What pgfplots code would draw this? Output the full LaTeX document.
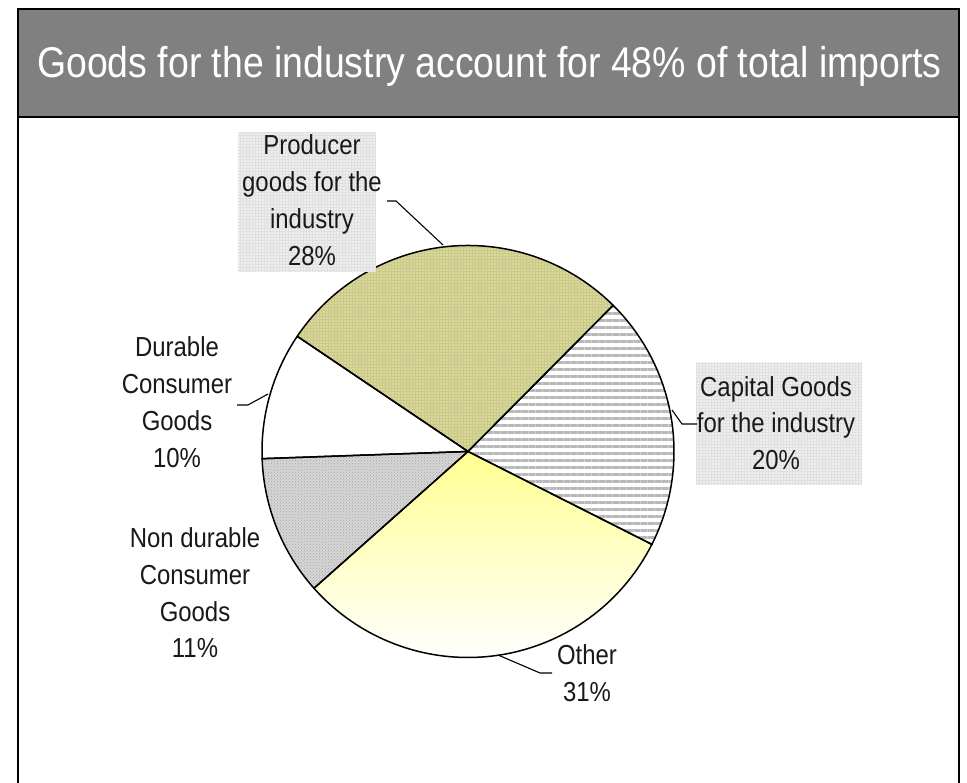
\documentclass[border=0pt]{standalone}
\usepackage{pgfplots}
\pgfplotsset{compat=1.18}
\usepackage{pgfplotstable}
\usepackage{fontspec}
\setmainfont{Liberation Sans}[FakeStretch=0.87]
\usetikzlibrary{patterns,patterns.meta}

\definecolor{titlegray}{RGB}{128,128,128}
\definecolor{khaki}{RGB}{200,200,152}
\definecolor{dotyellow}{RGB}{238,238,120}
\definecolor{stripegray}{RGB}{185,185,185}
\definecolor{lightyellow}{RGB}{255,255,145}
\definecolor{boxgray}{RGB}{238,238,238}
\definecolor{checkgray}{RGB}{165,165,165}

% slice shares (percent), clockwise from the first one
\pgfplotstableread[col sep=comma]{
name,value,style
Producer,28,sliceA
Capital,20,sliceB
Other,31,sliceC
Nondurable,11,sliceD
Durable,10,sliceE
}\piedata

\tikzset{
  sliceA/.style={fill=khaki, postaction={pattern={Dots[distance=3pt,radius=0.8pt]}, pattern color=dotyellow}},
  sliceB/.style={fill=white, postaction={pattern={Lines[angle=0,distance=7pt,line width=3pt]}, pattern color=stripegray}},
  sliceC/.style={top color=lightyellow, bottom color=white},
  sliceD/.style={fill=white!84!black, postaction={pattern=crosshatch dots, pattern color=checkgray}},
  sliceE/.style={fill=white},
  lbl/.style={anchor=base, text=black!90, font=\fontsize{27.5}{36}\selectfont},
  lead/.style={line width=1.1pt, black},
}

\begin{document}
\begin{tikzpicture}[x=1pt,y=1pt]
\useasboundingbox (0,0) rectangle (967,783);

% frame and title bar
\fill[white] (18,0) rectangle (959,666);
\draw[line width=2pt] (18,-2) -- (18,666) (959,666) -- (959,-2);
\filldraw[fill=titlegray, draw=black, line width=2pt] (18,666) rectangle (959,774);
\node[anchor=base, text=white, font=\fontsize{43}{50}\selectfont] at (489.5,705)
  {Goods for the industry account for 48\% of total imports};

\begin{axis}[
    hide axis,
    x=206pt, y=206pt,
    xmin=-1, xmax=1, ymin=-1, ymax=1,
    anchor=origin, at={(468pt,331.5pt)},
    clip=false,
  ]
  % fills
  \def\angstart{146}
  \pgfplotsforeachungrouped \i in {0,...,4}{
    \pgfplotstablegetelem{\i}{value}\of\piedata \let\val=\pgfplotsretval
    \pgfplotstablegetelem{\i}{style}\of\piedata \let\slicestyle=\pgfplotsretval
    \pgfmathsetmacro\angend{\angstart-3.6*\val}
    \edef\temp{\noexpand\path[\slicestyle] (axis cs:0,0) -- ([shift={(\angstart:206pt)}]axis cs:0,0)
      arc[start angle=\angstart, end angle=\angend, radius=206pt] -- cycle;}
    \temp
    \let\angstart=\angend
  }
  % outlines
  \def\angstart{146}
  \pgfplotsforeachungrouped \i in {0,...,4}{
    \pgfplotstablegetelem{\i}{value}\of\piedata \let\val=\pgfplotsretval
    \pgfmathsetmacro\angend{\angstart-3.6*\val}
    \edef\temp{\noexpand\draw[line width=1.5pt, line join=round] (axis cs:0,0) -- ([shift={(\angstart:206pt)}]axis cs:0,0)
      arc[start angle=\angstart, end angle=\angend, radius=206pt] -- cycle;}
    \temp
    \let\angstart=\angend
  }
\end{axis}

% label boxes
\fill[boxgray, postaction={pattern=grid, pattern color=black!12}] (238,511) rectangle (376,650);
\fill[boxgray, postaction={pattern=grid, pattern color=black!12}] (696,298) rectangle (862,420);

% leader lines
\draw[lead] (387,582) -- (396,582) -- (443,538);
\draw[lead] (672,373) -- (682,359) -- (697,359);
\draw[lead] (498,128) -- (540,110) -- (552,110);
\draw[lead] (237,378) -- (248,378) -- (268,389);

% labels
\node[lbl] at (312,628) {Producer};
\node[lbl] at (312,591.3) {goods for the};
\node[lbl] at (312,554.6) {industry};
\node[lbl] at (312,517.9) {28\%};

\node[lbl] at (776,386) {Capital Goods};
\node[lbl] at (776,350) {for the industry};
\node[lbl] at (776,313) {20\%};

\node[lbl] at (587,118) {Other};
\node[lbl] at (587,81.3) {31\%};

\node[lbl] at (177,426) {Durable};
\node[lbl] at (177,389) {Consumer};
\node[lbl] at (177,352) {Goods};
\node[lbl] at (177,315) {10\%};

\node[lbl] at (195,235) {Non durable};
\node[lbl] at (195,198) {Consumer};
\node[lbl] at (195,161.3) {Goods};
\node[lbl] at (195,125) {11\%};
\end{tikzpicture}
\end{document}
